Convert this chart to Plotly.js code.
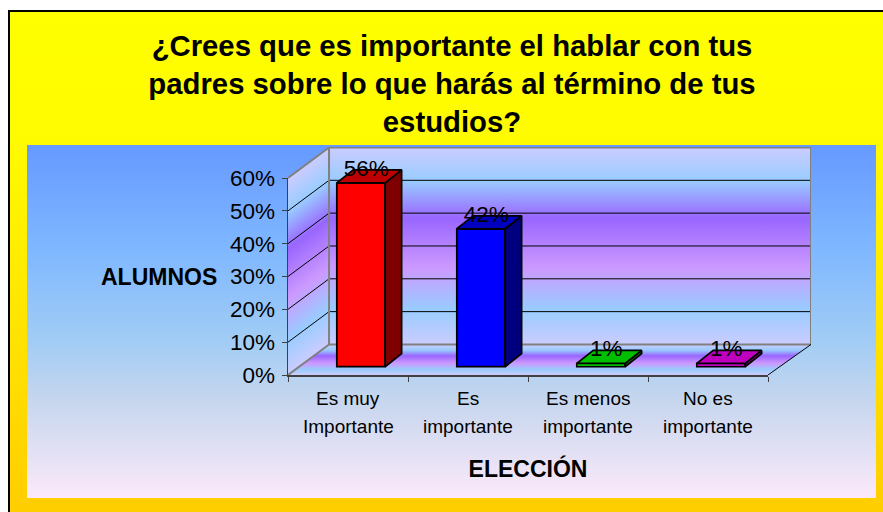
<!DOCTYPE html>
<html>
<head>
<meta charset="utf-8">
<script src="https://cdn.plot.ly/plotly-3.0.1.min.js"></script>
<style>html,body{margin:0;padding:0;background:#fff;overflow:hidden}#chart{width:883px;height:512px}</style>
</head>
<body>
<div id="chart"></div>
<script>
const titleLines = ['¿Crees que es importante el hablar con tus', 'padres sobre lo que harás al término de tus', 'estudios?'];
const categoryLine1 = ['Es muy', 'Es', 'Es menos', 'No es'];
const categoryLine2 = ['Importante', 'importante', 'importante', 'importante'];
const values = [56, 42, 1, 1];
const valueLabels = ['56%', '42%', '1%', '1%'];
const yTicks = [0, 10, 20, 30, 40, 50, 60];
const yTickText = ['0%', '10%', '20%', '30%', '40%', '50%', '60%'];
const xTicks = [0, 1, 2, 3, 4];
const frontColors = ['#FF0000', '#0000FF', '#00FF00', '#FF00FF'];
const sideColors = ['#7F0000', '#00007F', '#007F00', '#7F007F'];
const topColors = ['#BF0000', '#0000BF', '#00BF00', '#BF00BF'];

const W = 883, H = 512;
const M = {l: 288, r: 72, t: 147, b: 137};
const plotW = W - M.l - M.r, plotH = H - M.t - M.b;
const unitX = 120, unitY = 197 / 60;     // pixels per category, pixels per percent
const wallDX = 0.342, wallRight = plotW / unitX, wallDY = 9.3; // floor depth, in axis units
const barDX = 0.1375, barDY = 3.96;      // depth of a bar, in axis units
const barBase = 2.53, barShift = 0.108, barW = 0.4025;
const font = 'Liberation Sans, Arial, sans-serif';
const paperY = py => (H - M.b - py) / plotH;
const paperX = px => (px - M.l) / plotW;

function bgImage() {
  const stops = [[0,'#CCCCFF'],[.17,'#99CCFF'],[.36,'#9966FF'],[.61,'#CC99FF'],[.82,'#99CCFF'],[1,'#CCCCFF']]
    .map(s => `<stop offset="${s[0]}" stop-color="${s[1]}"/>`).join('');
  const svg = `<svg xmlns="http://www.w3.org/2000/svg" width="${W}" height="${H}" viewBox="0 0 ${W} ${H}">
<defs>
<linearGradient id="o" x1="0" y1="0" x2="0" y2="1"><stop offset="0" stop-color="#FFFF00"/><stop offset=".25" stop-color="#FFFB00"/><stop offset="1" stop-color="#FFCC00"/></linearGradient>
<linearGradient id="p" x1="0" y1="0" x2="0" y2="1"><stop offset="0" stop-color="#6699FF"/><stop offset=".3" stop-color="#80B8FF"/><stop offset=".55" stop-color="#A0CCF5"/><stop offset=".72" stop-color="#C5D6EE"/><stop offset="1" stop-color="#FCE9FA"/></linearGradient>
<linearGradient id="w" x1="0" y1="0" x2="0" y2="1">${stops}</linearGradient>
</defs>
<rect width="${W}" height="${H}" fill="#fff"/>
<rect x="9" y="11" width="${W}" height="${H}" fill="url(#o)" stroke="#000" stroke-width="2"/>
<rect x="27" y="145" width="849" height="353" fill="url(#p)"/>
<rect x="329" y="147" width="482" height="198" fill="url(#w)"/>
<g transform="matrix(1 -0.744 0 1 0 214.3)"><rect x="288" y="178" width="41" height="197" fill="url(#w)"/></g>
<polygon points="288,375 768,375 811,345 329,345" fill="url(#w)"/>
</svg>`;
  return 'data:image/svg+xml;base64,' + btoa(svg);
}

function seg(x, y, color, width) {
  return {type: 'scatter', mode: 'lines', x, y, line: {color, width, simplify: false},
          hoverinfo: 'skip', showlegend: false, xaxis: 'x2', yaxis: 'y2'};
}

// empty trace keeps the visible axes in place
const traces = [{type: 'scatter', mode: 'lines', x: [], y: [], xaxis: 'x', yaxis: 'y', hoverinfo: 'skip', showlegend: false}];
for (const v of yTicks.slice(1, 6)) {
  traces.push(seg([0, wallDX, wallRight], [v, v + wallDY, v + wallDY], '#000000', 1));
}
const grey = '#808080';
traces.push(seg([0, wallDX, wallRight, wallRight, wallDX, wallDX, 0],
                [60, 60 + wallDY, 60 + wallDY, wallDY, wallDY, 60 + wallDY, 60], grey, 2));
traces.push(seg([0, wallDX], [0, wallDY], grey, 2));
traces.push(seg([4, wallRight], [0, wallDY], '#000000', 1));

// bars on an overlaying subplot so they cover the walls
const centers = values.map((v, i) => i + 0.5 + barShift);
const edge = 1.75;
traces.push({type: 'bar', x: centers, y: values, base: values.map(() => barBase), width: barW,
  marker: {color: frontColors, line: {color: '#000000', width: edge}},
  xaxis: 'x3', yaxis: 'y3', hoverinfo: 'skip', showlegend: false});
values.forEach((v, i) => {
  const c = centers[i], l = c - barW / 2, r = c + barW / 2, top = barBase + v;
  const poly = (x, y, fillcolor) => ({type: 'scatter', mode: 'lines', x, y, fill: 'toself', fillcolor,
    line: {color: '#000000', width: edge}, xaxis: 'x3', yaxis: 'y3', hoverinfo: 'skip', showlegend: false});
  traces.push(poly([r, r + barDX, r + barDX, r, r], [barBase, barBase + barDY, top + barDY, top, barBase], sideColors[i]));
  traces.push(poly([l, l + barDX, r + barDX, r, l], [top, top + barDY, top + barDY, top, top], topColors[i]));
});
traces.push({type: 'scatter', mode: 'text', x: centers.map(c => c + 0.045),
  y: values.map(v => v + barBase + 3.9), text: valueLabels, textposition: 'middle center',
  textfont: {family: font, size: 22.5, color: '#000000'}, xaxis: 'x3', yaxis: 'y3',
  hoverinfo: 'skip', showlegend: false});

const annotations = [];
categoryLine1.forEach((t, i) => {
  annotations.push({xref: 'x', yref: 'paper', x: i + 0.5, y: paperY(398), text: t, showarrow: false,
    xanchor: 'center', yanchor: 'middle', font: {family: font, size: 19, color: '#000'}});
  annotations.push({xref: 'x', yref: 'paper', x: i + 0.5, y: paperY(426), text: categoryLine2[i], showarrow: false,
    xanchor: 'center', yanchor: 'middle', font: {family: font, size: 19, color: '#000'}});
});
annotations.push({xref: 'paper', yref: 'paper', x: paperX(158.5), y: paperY(277), text: '<b>ALUMNOS</b>',
  showarrow: false, xanchor: 'center', yanchor: 'middle', font: {family: font, size: 23, color: '#000'}});

const xDom = [0, 480 / plotW], yDom = [0, 197 / plotH];
const x2Range = [0, plotW / unitX], y2Range = [0, plotH / unitY];
const layout = {
  width: W, height: H, margin: M, autosize: false,
  paper_bgcolor: '#ffffff', plot_bgcolor: 'rgba(0,0,0,0)', showlegend: false, bargap: 0,
  title: {text: titleLines.join('<br>'), x: 452 / W, xanchor: 'center', xref: 'container',
          y: 1 - 56 / H, yanchor: 'top', yref: 'container',
          font: {family: font, size: 29.3, color: '#000', weight: 'bold'}},
  xaxis: {domain: xDom, anchor: 'y', range: [0, 4], tickvals: xTicks, ticks: 'outside', ticklen: 5, tickcolor: '#404040', tickwidth: 1,
          showticklabels: false, showgrid: false, zeroline: false, showline: true, linecolor: '#404040', linewidth: 1.5,
          title: {text: '<b>ELECCIÓN</b>', standoff: 80, font: {family: font, size: 23, color: '#000'}}},
  yaxis: {domain: yDom, anchor: 'x', range: [0, 60], tickvals: yTicks, ticktext: yTickText, ticks: 'outside', ticklen: 5, tickcolor: '#404040', tickwidth: 1,
          ticklabelstandoff: 2, showgrid: false, zeroline: false, showline: true, linecolor: '#404040', linewidth: 1.5,
          tickfont: {family: font, size: 22.5, color: '#000'}},
  xaxis2: {domain: [0, 1], range: x2Range, anchor: 'y2', visible: false, fixedrange: true},
  yaxis2: {domain: [0, 1], range: y2Range, anchor: 'x2', visible: false, fixedrange: true},
  xaxis3: {range: x2Range, overlaying: 'x2', anchor: 'y3', visible: false, fixedrange: true},
  yaxis3: {range: y2Range, overlaying: 'y2', anchor: 'x3', visible: false, fixedrange: true},
  annotations,
  images: [{source: bgImage(), xref: 'paper', yref: 'paper', x: -M.l / plotW, y: 1 + M.t / plotH,
            sizex: W / plotW, sizey: H / plotH, xanchor: 'left', yanchor: 'top',
            sizing: 'stretch', layer: 'below'}]
};
Plotly.newPlot('chart', traces, layout, {staticPlot: true, displayModeBar: false});
</script>
</body>
</html>
